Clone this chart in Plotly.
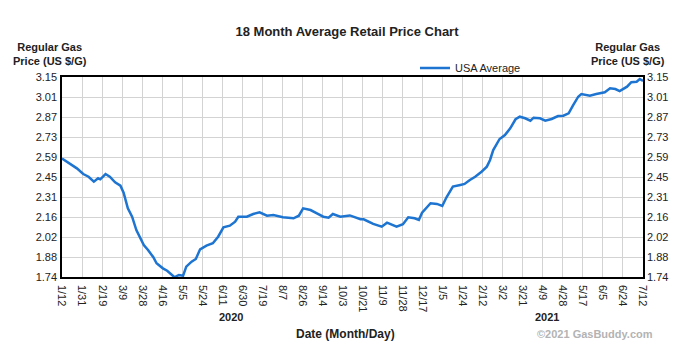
import plotly.graph_objects as go

# days since 2020-01-12 and USA average regular gas price (US $/G)
days = [0, 9, 14, 20, 25, 30, 34, 36, 41, 45, 50, 55, 58, 62, 66, 70, 77, 81, 86, 89,
        95, 99, 105, 106, 108, 110, 114, 117, 122, 126, 130, 136, 142, 147, 152, 158,
        163, 166, 174, 180, 186, 193, 199, 208, 218, 223, 227, 234, 240, 246, 251, 255,
        262, 271, 281, 284, 293, 301, 306, 315, 321, 326, 332, 336, 339, 347, 353, 358,
        362, 368, 375, 379, 384, 389, 395, 400, 403, 406, 412, 417, 422, 427, 431, 436,
        441, 444, 450, 455, 461, 467, 472, 477, 481, 486, 489, 497, 503, 511, 516, 521,
        525, 532, 536, 541, 544, 547]
prices = [2.575, 2.530, 2.506, 2.466, 2.447, 2.412, 2.436, 2.429, 2.466, 2.447, 2.408,
          2.384, 2.334, 2.224, 2.165, 2.071, 1.966, 1.930, 1.879, 1.837, 1.801, 1.784,
          1.740, 1.738, 1.747, 1.754, 1.749, 1.813, 1.848, 1.867, 1.935, 1.961, 1.978,
          2.024, 2.090, 2.102, 2.130, 2.165, 2.165, 2.184, 2.196, 2.172, 2.177, 2.161,
          2.154, 2.172, 2.224, 2.212, 2.189, 2.165, 2.158, 2.184, 2.165, 2.174, 2.147,
          2.147, 2.114, 2.095, 2.123, 2.095, 2.112, 2.161, 2.154, 2.142, 2.193, 2.260,
          2.255, 2.241, 2.302, 2.377, 2.389, 2.396, 2.424, 2.447, 2.482, 2.518, 2.565,
          2.635, 2.713, 2.741, 2.788, 2.852, 2.870, 2.859, 2.842, 2.863, 2.859, 2.842,
          2.854, 2.875, 2.877, 2.894, 2.948, 3.011, 3.030, 3.018, 3.030, 3.042, 3.070,
          3.065, 3.051, 3.082, 3.113, 3.117, 3.136, 3.122]

tick_labels = ["1/12", "1/31", "2/19", "3/9", "3/28", "4/16", "5/5", "5/24", "6/11",
               "6/30", "7/19", "8/7", "8/26", "9/14", "10/3", "10/21", "11/9", "11/28",
               "12/17", "1/5", "1/24", "2/12", "3/2", "3/21", "4/9", "4/28", "5/17",
               "6/5", "6/24", "7/12"]
y_ticks = [1.74, 1.88, 2.02, 2.16, 2.31, 2.45, 2.59, 2.73, 2.87, 3.01, 3.15]
total_days = 547

n = len(tick_labels) - 1
x_tickvals = [i * total_days / n for i in range(n + 1)]
# evenly spaced y gridlines (labels rounded)
y_tickvals = [1.74 + i * (3.15 - 1.74) / 10 for i in range(11)]
y_ticktext = ["%.2f" % v for v in y_ticks]

FONT = "Arial, Liberation Sans, sans-serif"
LINE = "#1d74d1"

# page body has an 8px margin: figure is sized so that the window coordinates match
OFF = 8
W, H = 695 - 2 * OFF, 359 - 2 * OFF
PL, PT, PW, PH = 62, 77, 581, 200  # plot area in window pixels

fig = go.Figure()
fig.add_trace(go.Scatter(x=days, y=prices, mode="lines", name="USA Average",
                         line=dict(color=LINE, width=2.5), yaxis="y"))
fig.add_trace(go.Scatter(x=days, y=prices, mode="lines", showlegend=False,
                         line=dict(color=LINE, width=0), opacity=0, hoverinfo="skip",
                         yaxis="y2"))

tickfont = dict(family=FONT, size=11, color="#222")

fig.update_layout(
    width=W, height=H,
    margin=dict(l=PL - OFF, r=W - (PL - OFF) - PW, t=PT - OFF, b=H - (PT - OFF) - PH),
    paper_bgcolor="white", plot_bgcolor="white",
    font=dict(family=FONT, color="#222"),
    title=dict(text="<b>18 Month Average Retail Price Chart</b>", x=(347 - OFF) / W,
               xanchor="center", y=1 - (31 - OFF) / H, yanchor="middle",
               font=dict(family=FONT, size=13, color="#222")),
    xaxis=dict(range=[0, total_days], tickmode="array", tickvals=x_tickvals,
               ticktext=tick_labels, tickangle=90, showline=True, linecolor="black",
               linewidth=1.5, mirror=True, ticks="", ticklabelstandoff=4,
               showgrid=True, gridcolor="#d3d3d3", gridwidth=1, zeroline=False,
               tickfont=tickfont),
    yaxis=dict(range=[1.74, 3.15], tickmode="array", tickvals=y_tickvals,
               ticktext=y_ticktext, showline=True, linecolor="black", linewidth=1.5,
               mirror=True, ticks="", ticklabelstandoff=1,
               showgrid=True, gridcolor="#d3d3d3", gridwidth=1, zeroline=False,
               tickfont=tickfont),
    yaxis2=dict(range=[1.74, 3.15], tickmode="array", tickvals=y_tickvals,
                ticktext=y_ticktext, overlaying="y", side="right", showgrid=False,
                zeroline=False, showline=False, ticks="", ticklabelstandoff=3,
                tickfont=tickfont),
    legend=dict(x=(415 - PL) / PW, y=(PT + PH - 68) / PH, xanchor="left",
                yanchor="middle", bgcolor="rgba(0,0,0,0)",
                font=dict(family=FONT, size=11, color="#222")),
    showlegend=True,
)


def px_x(p):
    return (p - PL) / PW


def px_y(p):
    return (PT + PH - p) / PH


def ann(text, x, y, size=11, color="#222"):
    fig.add_annotation(text=text, x=px_x(x), y=px_y(y), xref="paper", yref="paper",
                       xanchor="center", yanchor="middle", showarrow=False,
                       font=dict(family=FONT, size=size, color=color))


ann("<b>Regular Gas<br>Price (US $/G)</b>", 50, 54)
ann("<b>Regular Gas<br>Price (US $/G)</b>", 628, 54)
ann("<b>2020</b>", 231, 317)
ann("<b>2021</b>", 547, 317)
ann("<b>Date (Month/Day)</b>", 345, 334, size=12)
ann("<b>©2021 GasBuddy.com</b>", 595, 334, color="#b3b3b3")

fig.write_html("out.html")
